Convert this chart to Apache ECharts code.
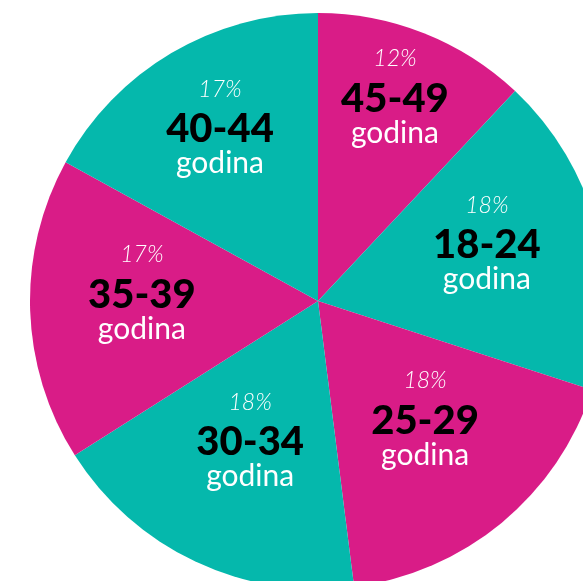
<!DOCTYPE html>
<html>
<head>
<meta charset="utf-8">
<script src="https://cdn.jsdelivr.net/npm/echarts@6/dist/echarts.min.js"></script>
<style>
  html, body { margin: 0; padding: 0; background: #ffffff; }
  #chart { width: 583px; height: 581px; }
</style>
</head>
<body>
<div id="chart"></div>
<script>
// Age groups, clockwise from 12 o'clock
const ageGroups = ['45-49', '18-24', '25-29', '30-34', '35-39', '40-44'];
const shares = [12, 18, 18, 18, 17, 17];
const unitWord = 'godina';

// Slice colours alternate magenta / teal
const sliceColors = ['#D91C87', '#05B8AC', '#D91C87', '#05B8AC', '#D91C87', '#05B8AC'];
// Label anchor for each slice: angle (degrees clockwise from 12 o'clock)
// and distance from the centre as a fraction of the radius
const labelAngle = [20.3, 70.0, 136.8, 206.6, 273.9, 331.1];
const labelRadius = [0.770, 0.624, 0.543, 0.526, 0.613, 0.704];

const CX = 318, CY = 301, R = 288;

function labelPoint(i) {
  const a = labelAngle[i] * Math.PI / 180;
  const d = R * labelRadius[i];
  return { x: CX + d * Math.sin(a), y: CY - d * Math.cos(a) };
}

const chart = echarts.init(document.getElementById('chart'), null, { renderer: 'canvas' });

chart.setOption({
  animation: false,
  series: [{
    type: 'pie',
    center: [CX, CY],
    radius: [0, R],
    startAngle: 90,
    clockwise: true,
    avoidLabelOverlap: false,
    itemStyle: { borderWidth: 0 },
    label: {
      show: true,
      position: 'inside',
      align: 'center',
      verticalAlign: 'middle',
      formatter: (p) => '{pct|' + p.value + '%}\n{age|' + p.name + '}\n{word|' + unitWord + '}',
      rich: {
        pct: {
          fontFamily: 'Lato', fontStyle: 'italic', fontWeight: 300,
          fontSize: 23, color: '#ffffff', lineHeight: 42, align: 'center'
        },
        age: {
          fontFamily: 'Lato', fontWeight: 900,
          fontSize: 40, color: '#000000', lineHeight: 38, align: 'center'
        },
        word: {
          fontFamily: 'Lato', fontWeight: 400,
          fontSize: 30, color: '#ffffff', lineHeight: 30, align: 'center'
        }
      }
    },
    labelLine: { show: false },
    labelLayout: (params) => {
      const pt = labelPoint(params.dataIndex);
      return { x: pt.x, y: pt.y, align: 'center', verticalAlign: 'middle' };
    },
    emphasis: { disabled: true },
    data: ageGroups.map((name, i) => ({
      name: name,
      value: shares[i],
      itemStyle: { color: sliceColors[i] }
    }))
  }]
});
</script>
</body>
</html>
